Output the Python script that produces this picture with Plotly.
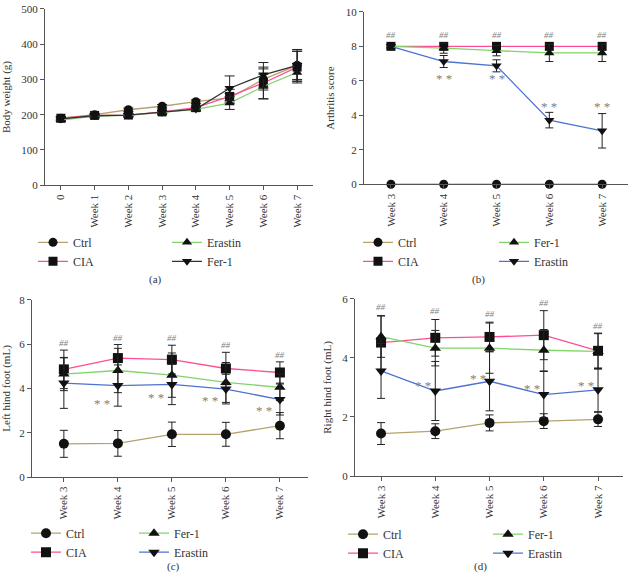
import plotly.graph_objects as go

# ---------------- data ----------------
weeks_a = ["0", "Week 1", "Week 2", "Week 3", "Week 4", "Week 5", "Week 6", "Week 7"]
weeks = ["Week 3", "Week 4", "Week 5", "Week 6", "Week 7"]

# (a) body weight (g)
a_ctrl = [190, 200, 214, 224, 237, 248, 300, 340]
a_ctrl_err = [5, 4, 5, 5, 5, 12, 30, 40]
a_cia = [190, 198, 199, 208, 220, 252, 290, 335]
a_cia_err = [5, 4, 4, 5, 5, 20, 45, 45]
a_erastin = [185, 196, 198, 206, 215, 233, 280, 320]
a_erastin_err = [4, 4, 4, 4, 4, 18, 35, 25]
a_fer1 = [188, 197, 199, 207, 216, 275, 313, 340]
a_fer1_err = [4, 4, 4, 4, 4, 35, 35, 45]

# (b) arthritis score
b_ctrl = [0, 0, 0, 0, 0]
b_cia = [8, 8, 8, 8, 8]
b_fer1 = [8, 7.9, 7.75, 7.62, 7.62]
b_fer1_err = [0, 0.3, 0.3, 0.5, 0.5]
b_erastin = [8, 7.12, 6.87, 3.72, 3.1]
b_erastin_err = [0, 0.35, 0.35, 0.45, 1.0]
b_hash_y = [8.67, 8.67, 8.67, 8.67, 8.67]
b_star_x = ["Week 4", "Week 5", "Week 6", "Week 7"]
b_star_y = [6.3, 6.3, 4.66, 4.66]

# (c) left hind foot (mL)
c_ctrl = [1.5, 1.52, 1.93, 1.93, 2.32]
c_ctrl_err = [0.61, 0.58, 0.55, 0.54, 0.59]
c_cia = [4.86, 5.37, 5.3, 4.9, 4.72]
c_cia_err = [0.87, 0.61, 0.65, 0.73, 0.48]
c_fer1 = [4.65, 4.81, 4.6, 4.27, 4.05]
c_fer1_err = [0.75, 1.0, 1.0, 0.9, 0.6]
c_erastin = [4.24, 4.13, 4.18, 3.97, 3.5]
c_erastin_err = [1.14, 0.93, 0.91, 0.67, 0.7]
c_hash_y = [6.04, 6.26, 6.26, 5.96, 5.49]
c_star_x = ["Week 4", "Week 5", "Week 6", "Week 7"]
c_star_y = [3.47, 3.72, 3.57, 3.16]

# (d) right hind foot (mL)
d_ctrl = [1.44, 1.52, 1.8, 1.86, 1.92]
d_ctrl_err = [0.37, 0.25, 0.27, 0.25, 0.24]
d_cia = [4.52, 4.68, 4.71, 4.77, 4.24]
d_cia_err = [0.91, 0.62, 0.5, 0.83, 0.6]
d_fer1 = [4.72, 4.33, 4.33, 4.26, 4.22]
d_fer1_err = [0.7, 0.6, 0.85, 0.7, 0.6]
d_erastin = [3.56, 2.88, 3.21, 2.76, 2.92]
d_erastin_err = [0.93, 1.0, 1.0, 0.78, 0.74]
d_hash_y = [5.74, 5.59, 5.48, 5.87, 5.07]
d_star_x = ["Week 4", "Week 5", "Week 6", "Week 7"]
d_star_y = [3.18, 3.41, 3.07, 3.18]

# ---------------- style ----------------
FONT = "Liberation Serif"
C_CTRL = "#b5a26c"
C_CIA = "#ff4d94"
C_GREEN = "#80d46a"
C_BLUE = "#4d72cf"
C_BLACK = "#333333"
AX = "#555555"
MK = "#111111"

fig = go.Figure()


def add(xs, ys, err, name, color, symbol, xa, ya, legend, cap=4, size=9):
    fig.add_trace(go.Scatter(
        x=xs, y=ys, name=name, mode="lines+markers",
        line=dict(color=color, width=1.3),
        marker=dict(symbol=symbol, size=size, color=MK),
        error_y=dict(type="data", array=err, visible=err is not None,
                     color="#222222", thickness=1, width=cap),
        xaxis=xa, yaxis=ya, legend=legend, cliponaxis=False, hoverinfo="skip",
    ))


# (a)
add(weeks_a, a_ctrl, a_ctrl_err, "Ctrl", C_CTRL, "circle", "x", "y", "legend", 5)
add(weeks_a, a_cia, a_cia_err, "CIA", C_CIA, "square", "x", "y", "legend", 5)
add(weeks_a, a_erastin, a_erastin_err, "Erastin", C_GREEN, "triangle-up", "x", "y", "legend2", 5)
add(weeks_a, a_fer1, a_fer1_err, "Fer-1", C_BLACK, "triangle-down", "x", "y", "legend2", 5)
# (b)
add(weeks, b_ctrl, None, "Ctrl", C_CTRL, "circle", "x2", "y2", "legend3")
add(weeks, b_cia, None, "CIA", C_CIA, "square", "x2", "y2", "legend3")
add(weeks, b_fer1, b_fer1_err, "Fer-1", C_GREEN, "triangle-up", "x2", "y2", "legend4")
add(weeks, b_erastin, b_erastin_err, "Erastin", C_BLUE, "triangle-down", "x2", "y2", "legend4")
# (c)
add(weeks, c_ctrl, c_ctrl_err, "Ctrl", C_CTRL, "circle", "x3", "y3", "legend5", size=10)
add(weeks, c_cia, c_cia_err, "CIA", C_CIA, "square", "x3", "y3", "legend5", size=10)
add(weeks, c_fer1, c_fer1_err, "Fer-1", C_GREEN, "triangle-up", "x3", "y3", "legend6", size=10)
add(weeks, c_erastin, c_erastin_err, "Erastin", C_BLUE, "triangle-down", "x3", "y3", "legend6", size=10)
# (d)
add(weeks, d_ctrl, d_ctrl_err, "Ctrl", C_CTRL, "circle", "x4", "y4", "legend7", size=10)
add(weeks, d_cia, d_cia_err, "CIA", C_CIA, "square", "x4", "y4", "legend7", size=10)
add(weeks, d_fer1, d_fer1_err, "Fer-1", C_GREEN, "triangle-up", "x4", "y4", "legend8", size=10)
add(weeks, d_erastin, d_erastin_err, "Erastin", C_BLUE, "triangle-down", "x4", "y4", "legend8", size=10)

W, H = 630, 581


def px_x(p):
    return p / W


def px_y(p):
    return 1 - p / H


def xaxis(d0, d1, rng, anchor):
    return dict(domain=[px_x(d0), px_x(d1)], range=rng, type="category", anchor=anchor,
                showline=True, linecolor=AX, linewidth=1, ticks="outside", ticklen=4,
                tickcolor=AX, tickangle=-90, showgrid=False, zeroline=False,
                tickfont=dict(size=11, color="#333"))


def yaxis(d0, d1, rng, dtick, title, anchor):
    return dict(domain=[px_y(d1), px_y(d0)], range=rng, dtick=dtick, anchor=anchor,
                showline=True, linecolor=AX, linewidth=1, ticks="outside", ticklen=4,
                tickcolor=AX, showgrid=False, zeroline=False,
                title=dict(text=title, font=dict(size=11, color="#333"), standoff=8),
                tickfont=dict(size=11, color="#333"))


def legend_at(xp, yp):
    return dict(x=px_x(xp), y=px_y(yp), xanchor="left", yanchor="middle",
                orientation="v", bgcolor="rgba(0,0,0,0)",
                font=dict(family=FONT, size=12, color="#333"))


layout = dict(
    width=W, height=H, margin=dict(l=0, r=0, t=0, b=0),
    paper_bgcolor="white", plot_bgcolor="white", hovermode=False,
    font=dict(family=FONT, size=11, color="#333"),
    xaxis=xaxis(45, 313, [-0.47, 7.47], "y"),
    yaxis=yaxis(3, 183, [0, 500], 100, "Body weight (g)", "x"),
    xaxis2=xaxis(364, 628, [-0.51, 4.49], "y2"),
    yaxis2=yaxis(6, 182, [0, 10], 2, "Arthritis score", "x2"),
    xaxis3=xaxis(32, 308, [-0.59, 4.52], "y3"),
    yaxis3=yaxis(300, 481, [0, 8], 2, "Left hind foot (mL)", "x3"),
    xaxis4=xaxis(355, 623, [-0.48, 4.46], "y4"),
    yaxis4=yaxis(299, 480, [0, 6], 2, "Right hind foot (mL)", "x4"),
    legend=legend_at(33, 251),
    legend2=legend_at(167, 251),
    legend3=legend_at(358, 251),
    legend4=legend_at(494, 251),
    legend5=legend_at(26, 548),
    legend6=legend_at(134, 548),
    legend7=legend_at(343, 549),
    legend8=legend_at(488, 549),
)
fig.update_layout(**layout)

ann = []
for lab, xp, yp in [("(a)", 155, 279), ("(b)", 478, 279), ("(c)", 173, 572), ("(d)", 481, 572)]:
    ann.append(dict(text=lab, x=px_x(xp), y=px_y(yp), xref="paper", yref="paper",
                    xanchor="center", yanchor="middle",
                    showarrow=False, font=dict(size=11, color="#333")))


def sig(xs, ys, txt, xr, yr, size, xshift=0, yshift=0, italic=False):
    for xv, yv in zip(xs, ys):
        t = "<i>%s</i>" % txt if italic else txt
        ann.append(dict(text=t, x=xv, y=yv, xref=xr, yref=yr, showarrow=False,
                        xanchor="center", yanchor="middle",
                        xshift=xshift, yshift=yshift, font=dict(size=size, color="#808080")))


sig(weeks, b_hash_y, "##", "x2", "y2", 9, italic=True)
sig(b_star_x, b_star_y, "* *", "x2", "y2", 13, yshift=-3)
sig(weeks, c_hash_y, "##", "x3", "y3", 9, italic=True)
sig(c_star_x, c_star_y, "* *", "x3", "y3", 13, xshift=-16, yshift=-3)
sig(weeks, d_hash_y, "##", "x4", "y4", 9, italic=True)
sig(d_star_x, d_star_y, "* *", "x4", "y4", 13, xshift=-12, yshift=-3)
fig.update_layout(annotations=ann)

fig.write_html("out.html", config={"displayModeBar": False},
               post_script="document.body.style.margin='0';document.body.style.padding='0';")
